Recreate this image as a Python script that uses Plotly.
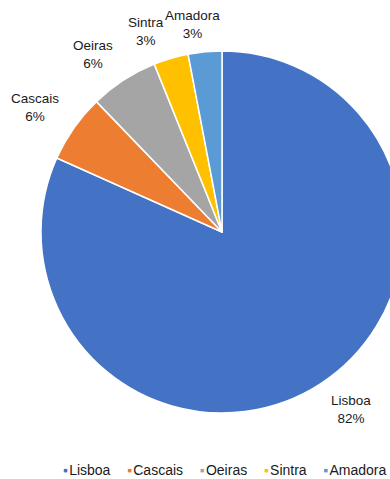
import math
import plotly.graph_objects as go

labels = ["Lisboa", "Cascais", "Oeiras", "Sintra", "Amadora"]
values = [81.7, 6.1, 6.1, 3.1, 3.0]
colors = ["#4472C4", "#ED7D31", "#A5A5A5", "#FFC000", "#5B9BD5"]

FONT = "Liberation Sans, Arial, sans-serif"
TXT = "#1a1a1a"
LABEL_SIZE = 13.5

W, H = 444, 479
M_T, M_B = 51, 66
plot_w = W
plot_h = H - M_T - M_B
radius = min(plot_w, plot_h) / 2
label_gap = 11

# approximate Arial / Liberation Sans advance widths (em) for label sizing
CHAR_W = {"A": .667, "C": .722, "L": .556, "O": .778, "S": .667, "a": .556, "b": .556,
          "c": .5, "d": .556, "e": .556, "i": .222, "m": .833, "n": .556, "o": .556,
          "r": .333, "s": .5, "t": .278, "%": .889}


def text_w(t, size):
    return sum(CHAR_W.get(ch, .556) for ch in t) * size


def clip(v):
    return max(-1.0, min(1.0, v))


fig = go.Figure()
fig.add_trace(go.Pie(
    labels=labels,
    values=values,
    sort=False,
    direction="clockwise",
    rotation=0,
    marker=dict(colors=colors, line=dict(color="white", width=1.5)),
    textinfo="none",
    showlegend=False,
    hoverinfo="label+percent",
    domain=dict(x=[0, 1], y=[0, 1]),
))

# data labels, placed just outside each slice around its mid-angle
total = sum(values)
cum = 0.0
for lab, val in zip(labels, values):
    mid = (cum + val / 2) / total * 2 * math.pi
    cum += val
    s, c = math.sin(mid), math.cos(mid)
    pct = f"{round(val / total * 100)}%"
    w = max(text_w(lab, LABEL_SIZE), text_w(pct, LABEL_SIZE))
    h = 2 * LABEL_SIZE * 1.2
    d = radius + label_gap
    px, py = d * s, d * c  # offset from centre, y up
    a = 0.5 - 0.62 * clip(3.6 * s)
    b = 0.5 + 0.5 * clip(1.46 * c)
    cx = px + (0.5 - a) * w
    cy = py + (b - 0.5) * h
    fig.add_annotation(
        text=f"{lab}<br>{pct}",
        xref="paper", yref="paper",
        x=0.5 + cx / plot_w, y=0.5 + cy / plot_h,
        xanchor="center", yanchor="middle",
        align="center", showarrow=False,
        font=dict(family=FONT, size=LABEL_SIZE, color=TXT),
    )

sep = "\u00a0" * 4 + "\u200a"
legend_text = sep.join(
    f"<span style='color:{c}'>\u25aa</span>\u200a{l}" for l, c in zip(labels, colors)
)
fig.add_annotation(
    text=legend_text, xref="paper", yref="paper", x=225 / W, y=-(470 - (H - M_B)) / plot_h,
    xanchor="center", yanchor="middle", showarrow=False,
    font=dict(family=FONT, size=14, color=TXT),
)

fig.update_layout(
    width=W, height=H,
    margin=dict(l=0, r=0, t=M_T, b=M_B),
    paper_bgcolor="white", plot_bgcolor="white",
    font=dict(family=FONT, color=TXT),
)

fig.write_html(
    "out.html",
    post_script="document.documentElement.style.overflow='hidden';document.body.style.overflow='hidden';",
)
